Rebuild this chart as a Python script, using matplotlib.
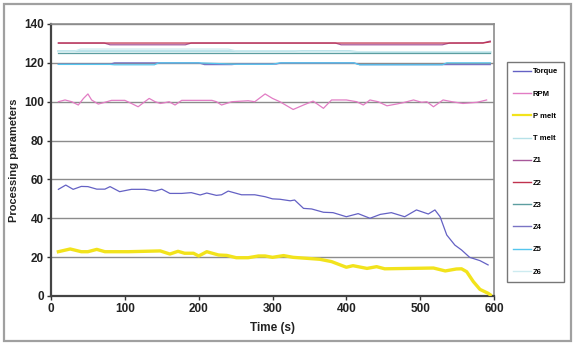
import matplotlib
matplotlib.use("Agg")
import matplotlib.pyplot as plt
from matplotlib.patches import Rectangle

plt.rcParams['font.family'] = ['Liberation Sans', 'DejaVu Sans']
plt.rcParams['font.weight'] = 'bold'

# ---------------- data ----------------
torque_t = [10, 20, 30, 41, 50, 62, 73, 80, 93, 109, 127, 141, 150, 161, 177, 190, 202, 211, 224, 231,
            240, 258, 276, 290, 300, 310, 324, 330, 342, 353, 369, 382, 400, 416, 432, 446, 461, 479,
            495, 511, 520, 527, 536, 547, 556, 567, 581, 592]
torque_v = [54.9, 57.1, 54.9, 56.4, 56.3, 55.0, 55.0, 56.3, 53.7, 54.9, 54.9, 54.0, 55.0, 52.8, 52.8, 53.2,
            52.0, 53.0, 51.8, 52.1, 54.0, 52.1, 52.1, 51.1, 50.0, 49.8, 49.0, 49.4, 45.1, 44.8, 43.1, 42.9,
            40.8, 42.4, 40.0, 42.0, 42.9, 40.8, 44.3, 42.2, 44.3, 40.8, 31.4, 26.2, 23.7, 19.9, 18.2, 16.0]

rpm_t = [10, 19, 28, 37, 44, 50, 55, 64, 73, 82, 100, 109, 118, 127, 133, 141, 148, 154, 160, 168, 177,
         218, 224, 231, 245, 267, 276, 290, 300, 310, 328, 342, 355, 369, 380, 400, 414, 423, 432, 443,
         455, 468, 477, 491, 502, 509, 518, 531, 543, 558, 577, 590]
rpm_v = [100.0, 100.9, 100.0, 98.3, 101.7, 104.0, 100.9, 98.8, 99.7, 100.7, 100.7, 99.1, 97.4, 100.0,
         101.7, 100.0, 99.1, 99.5, 100.0, 98.3, 100.7, 100.7, 100.0, 98.3, 100.0, 100.5, 100.0, 104.0,
         101.7, 100.0, 96.0, 98.3, 100.3, 96.6, 100.9, 100.9, 100.0, 98.3, 100.9, 100.0, 97.9, 98.8,
         99.5, 100.9, 99.7, 100.0, 97.4, 100.9, 100.0, 99.1, 99.7, 100.9]

pmelt_t = [10, 26, 41, 50, 62, 73, 105, 148, 161, 172, 181, 193, 200, 211, 227, 238, 251, 267, 281, 290,
           300, 315, 328, 346, 364, 380, 400, 409, 428, 441, 452, 518, 534, 549, 556, 563, 572, 581, 592, 595]
pmelt_v = [22.8, 24.2, 22.8, 22.8, 24.0, 22.8, 22.8, 23.2, 21.6, 23.0, 22.0, 22.0, 20.6, 22.8, 21.1, 20.9,
           19.7, 19.7, 20.6, 20.6, 19.9, 20.8, 19.9, 19.4, 18.9, 17.7, 14.8, 15.6, 14.2, 15.1, 14.0, 14.4,
           12.9, 13.9, 14.0, 12.5, 7.4, 3.4, 1.4, 0.6]

tmelt_t = [10, 405, 415, 595]
tmelt_v = [126.0, 126.0, 125.5, 125.5]

z1_t = [10, 72, 80, 182, 190, 385, 393, 530, 540, 585, 595]
z1_v = [130.2, 130.2, 129.3, 129.3, 130.2, 130.2, 129.3, 129.3, 130.2, 130.3, 131.2]

z2_t = [10, 585, 595]
z2_v = [130.2, 130.2, 130.8]

z3_t = [10, 595]
z3_v = [125.1, 125.1]

z4_t = [10, 80, 86, 200, 208, 245, 252, 305, 312, 410, 418, 595]
z4_v = [119.3, 119.3, 120.0, 120.0, 119.1, 119.1, 119.4, 119.4, 120.0, 120.0, 119.1, 119.1]

z5_t = [10, 80, 86, 140, 146, 200, 250, 300, 310, 410, 418, 530, 536, 595]
z5_v = [119.2, 119.2, 119.0, 119.0, 120.0, 120.0, 119.3, 119.3, 120.0, 120.0, 119.0, 119.0, 120.0, 120.0]

z6_t = [10, 32, 40, 240, 250, 330, 340, 595]
z6_v = [126.0, 126.0, 127.1, 127.1, 126.2, 126.2, 125.8, 125.8]

x_ticks = [0, 100, 200, 300, 400, 500, 600]
y_ticks = [0, 20, 40, 60, 80, 100, 120, 140]

# ---------------- figure ----------------
fig = plt.figure(figsize=(5.77, 3.44), dpi=100)
fig.patch.set_facecolor('white')
fig.add_artist(Rectangle((4 / 577, 3 / 344), 567 / 577, 337 / 344, transform=fig.transFigure,
                         fill=False, edgecolor='#a0a0a0', linewidth=1.6))

ax = fig.add_axes([51 / 577, 1 - 296 / 344, 443 / 577, 272 / 344])

series = [
    ('Torque', torque_t, torque_v, '#6461c4', 0.9),
    ('RPM', rpm_t, rpm_v, '#e27cc4', 0.9),
    ('P melt', pmelt_t, pmelt_v, '#f2e31c', 2.4),
    ('T melt', tmelt_t, tmelt_v, '#b6e1e8', 1.6),
    ('Z1', z1_t, z1_v, '#a8589a', 0.9),
    ('Z2', z2_t, z2_v, '#c0324e', 0.9),
    ('Z3', z3_t, z3_v, '#5c9ea0', 0.9),
    ('Z4', z4_t, z4_v, '#7a74c4', 0.9),
    ('Z5', z5_t, z5_v, '#55c6ee', 0.9),
    ('Z6', z6_t, z6_v, '#cdebf0', 0.9),
]
handles = []
for name, t, v, c, lw in series:
    h, = ax.plot(t, v, color=c, linewidth=lw, label=name, zorder=3)
    handles.append(h)

ax.set_xlim(0, 600)
ax.set_ylim(0, 140)
ax.set_xticks(x_ticks)
ax.set_yticks(y_ticks)
ax.yaxis.grid(True, color='#8c8c8c', linewidth=1.0, zorder=1)
ax.set_axisbelow(True)
ax.tick_params(axis='both', labelsize=8.5, length=3, width=1, colors='#333333', pad=2)
for lab in ax.get_xticklabels() + ax.get_yticklabels():
    lab.set_fontweight('bold')
    lab.set_color('#222222')

ax.spines['left'].set_color('#444444')
ax.spines['left'].set_linewidth(1.6)
ax.spines['bottom'].set_color('#444444')
ax.spines['bottom'].set_linewidth(1.6)
ax.spines['top'].set_color('#8c8c8c')
ax.spines['top'].set_linewidth(1.2)
ax.spines['right'].set_color('#8c8c8c')
ax.spines['right'].set_linewidth(1.2)

ax.set_xlabel('Time (s)', fontsize=8.5, fontweight='bold', color='#222222', labelpad=5)
ax.set_ylabel('Processing parameters', fontsize=8, fontweight='bold', color='#222222', labelpad=4)

leg = fig.legend(handles=handles, loc='upper left',
                 bbox_to_anchor=(507 / 577, 1 - 62 / 344), frameon=True, fancybox=False,
                 prop={'size': 5.5, 'weight': 'bold'}, handlelength=2.3, handletextpad=0.3,
                 labelspacing=1.95, borderpad=0.8, borderaxespad=0)
leg.get_frame().set_edgecolor('#555555')
leg.get_frame().set_linewidth(1.0)
for lh in leg.get_lines():
    lh.set_linewidth(1.0)
leg.get_lines()[2].set_linewidth(1.6)

fig.savefig('out.png', dpi=100)
